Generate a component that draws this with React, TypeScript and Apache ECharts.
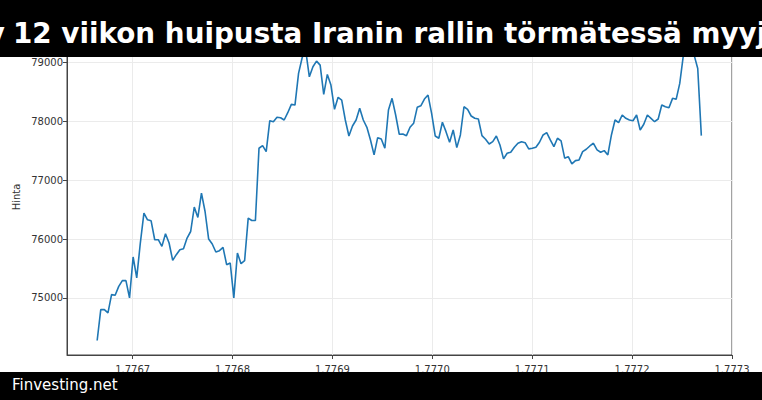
import React, { useEffect, useRef } from "react";
import * as echarts from "echarts";

// Hourly closes (Unix seconds start, 1 h step)
const startTime = 1776664500;
const stepSeconds = 3600;
const prices: number[] = [
  74276, 74800, 74800, 74745, 75055, 75045, 75195, 75293, 75293, 75000,
  75695, 75340, 75932, 76440, 76327, 76310, 75988, 75988, 75875, 76090,
  75932, 75637, 75734, 75819, 75836, 76017, 76128, 76542, 76366, 76780,
  76468, 76000, 75915, 75780, 75802, 75858, 75564, 75593, 75000, 75763,
  75581, 75632, 76356, 76315, 76315, 77542, 77586, 77485, 78010, 77993,
  78068, 78061, 78022, 78146, 78288, 78276, 78814, 79080, 79200, 78756,
  78926, 79022, 78954, 78458, 78797, 78615, 78203, 78407, 78361, 78022,
  77751, 77920, 78022, 78220, 78022, 77898, 77683, 77429, 77722, 77700,
  77542, 78192, 78390, 78107, 77780, 77785, 77756, 77898, 77966, 78237,
  78264, 78378, 78446, 78136, 77751, 77712, 77983, 77824, 77644, 77853,
  77553, 77768, 78247, 78203, 78090, 78051, 78039, 77756, 77695, 77615,
  77654, 77751, 77598, 77361, 77458, 77475, 77559, 77627, 77654, 77637,
  77531, 77542, 77559, 77644, 77768, 77807, 77683, 77570, 77712, 77666,
  77373, 77400, 77276, 77332, 77344, 77485, 77525, 77581, 77627, 77514,
  77475, 77502, 77429, 77768, 78022, 77976, 78107, 78051, 78022, 78010,
  78107, 77853, 77949, 78107, 78051, 77993, 78039, 78276, 78247, 78231,
  78390, 78373, 78644, 79120, 79250, 79200, 79124, 78898, 77756,
];

const xTicks: number[] = [1776700000, 1776800000, 1776900000, 1777000000, 1777100000, 1777200000, 1777300000];
const yTicks: number[] = [75000, 76000, 77000, 78000, 79000];

const titleHidden = "Bitcoin vetäytyy";
const titleVisible = "12 viikon huipusta Iranin rallin törmätessä myyjiin";
const yName = "Hinta";
const brand = "Finvesting.net";

export default function App() {
  const ref = useRef<HTMLDivElement>(null);
  useEffect(() => {
    if (!ref.current) return;
    const chart = echarts.init(ref.current, null, { renderer: "svg" });
    const data = prices.map((p, i) => [startTime + i * stepSeconds, p]);
    const font = "DejaVu Sans";
    chart.setOption({
      animation: false,
      backgroundColor: "#ffffff",
      grid: {
        left: 67,
        right: 30,
        top: 33,
        bottom: 45,
        show: true,
        borderColor: "#444",
        borderWidth: 1,
        backgroundColor: "transparent",
      },
      xAxis: {
        type: "value",
        min: 1776634300,
        max: 1777300000,
        axisLine: { show: true, lineStyle: { color: "#444" } },
        axisTick: { show: true, length: 4, customValues: xTicks, lineStyle: { color: "#444" } },
        axisLabel: {
          customValues: xTicks,
          color: "#333",
          fontFamily: font,
          fontSize: 10,
          margin: 9,
          formatter: (v: number) => (v / 1e9).toFixed(4),
        },
        splitLine: { show: true, lineStyle: { color: "#ebebeb", width: 1 } },
      },
      yAxis: {
        type: "value",
        min: 74030,
        max: 79500,
        axisLine: { show: true, lineStyle: { color: "#444" } },
        axisTick: { show: true, length: 4, customValues: yTicks, lineStyle: { color: "#444" } },
        axisLabel: {
          customValues: yTicks,
          color: "#333",
          fontFamily: font,
          fontSize: 10,
          margin: 4,
          formatter: (v: number) => String(v),
        },
        splitLine: { show: true, lineStyle: { color: "#ebebeb", width: 1 } },
      },
      series: [
        {
          type: "line",
          data,
          showSymbol: false,
          symbol: "none",
          lineStyle: { color: "#1f77b4", width: 1.6 },
          z: 3,
        },
      ],
      graphic: [
        {
          type: "text",
          x: 16,
          y: 197,
          rotation: Math.PI / 2,
          style: { text: yName, fontFamily: font, fontSize: 10, fill: "#333", align: "center", verticalAlign: "middle" },
        },
        { type: "rect", left: 0, top: 0, z: 100, shape: { x: 0, y: 0, width: 762, height: 57 }, style: { fill: "#000" } },
        {
          type: "text",
          x: 5,
          y: 33,
          z: 101,
          style: { text: titleHidden, fontFamily: font, fontSize: 27.8, fontWeight: "bold", fill: "#fff", align: "right", verticalAlign: "middle" },
        },
        {
          type: "text",
          x: 13,
          y: 33,
          z: 101,
          style: { text: titleVisible, fontFamily: font, fontSize: 27.8, fontWeight: "bold", fill: "#fff", align: "left", verticalAlign: "middle" },
        },
        { type: "rect", left: 0, top: 372, z: 100, shape: { x: 0, y: 0, width: 762, height: 28 }, style: { fill: "#000" } },
        {
          type: "text",
          x: 12,
          y: 385,
          z: 101,
          style: { text: brand, fontFamily: font, fontSize: 15, fill: "#fff", align: "left", verticalAlign: "middle" },
        },
      ],
    });
    return () => chart.dispose();
  }, []);
  return <div ref={ref} style={{ position: "fixed", left: 0, top: 0, width: 762, height: 400 }} />;
}
